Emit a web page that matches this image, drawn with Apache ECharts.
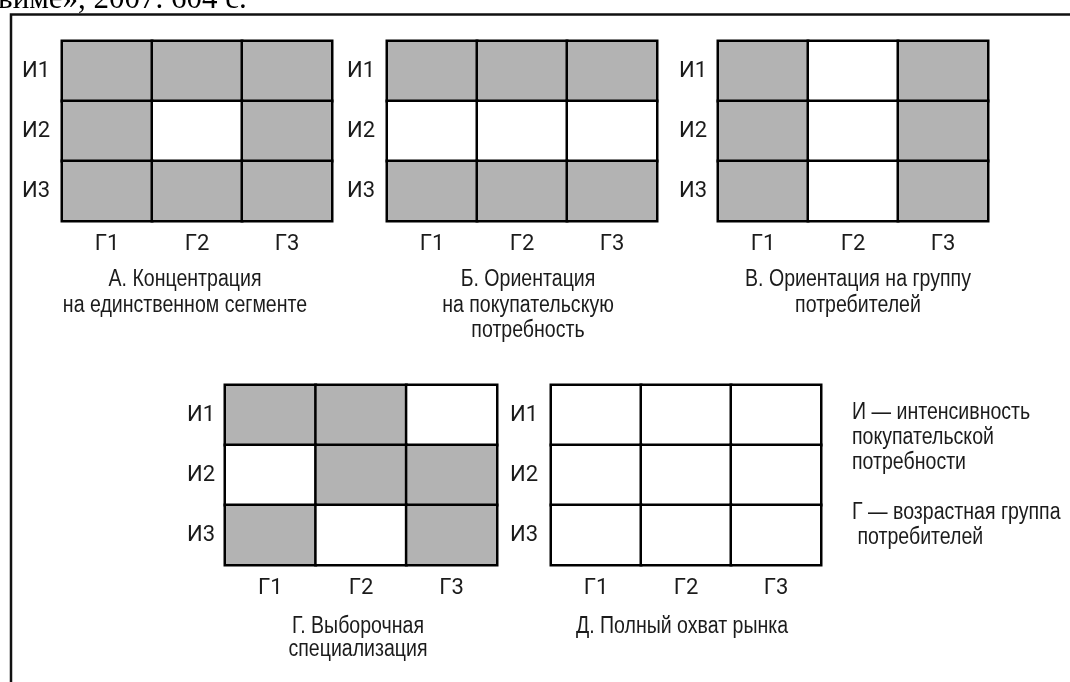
<!DOCTYPE html>
<html>
<head>
<meta charset="utf-8">
<script src="https://cdn.jsdelivr.net/npm/echarts@6/dist/echarts.min.js"></script>
<style>
  html, body { margin: 0; padding: 0; background: #fff; }
  #chart { width: 1070px; height: 682px; }
</style>
</head>
<body>
<div id="chart"></div>
<script>
// categories
const groups = ["Г1", "Г2", "Г3"];
const intensities = ["И1", "И2", "И3"];

// 1 = covered segment (shaded), 0 = not covered; rows И1..И3, cols Г1..Г3
const matrixA = [[1, 1, 1], [1, 0, 1], [1, 1, 1]];
const matrixB = [[1, 1, 1], [0, 0, 0], [1, 1, 1]];
const matrixC = [[1, 0, 1], [1, 0, 1], [1, 0, 1]];
const matrixD = [[1, 1, 0], [0, 1, 1], [1, 0, 1]];
const matrixE = [[0, 0, 0], [0, 0, 0], [0, 0, 0]];

const captions = [
  "А. Концентрация\nна единственном сегменте",
  "Б. Ориентация\nна покупательскую\nпотребность",
  "В. Ориентация на группу\nпотребителей",
  "Г. Выборочная\nспециализация",
  "Д. Полный охват рынка",
];

const legendLines = "И — интенсивность\nпокупательской\nпотребности\n\nГ — возрастная группа\n потребителей";

const labelFont = "Roboto, 'Liberation Sans', sans-serif";
const textFont = "'Liberation Sans', Arial, sans-serif";
const narrow = 0.85; // squeeze Arial-like text toward the condensed original
const ink = "#1b1b1b";

// panel layout: grid box, label margin, caption anchor
const panels = [
  { m: matrixA, left: 62, top: 41, width: 270, labelGap: 12, cx: 185, cy: 267, lh: 25.5 },
  { m: matrixB, left: 387, top: 41, width: 270, labelGap: 12, cx: 528, cy: 267, lh: 25.5 },
  { m: matrixC, left: 718, top: 41, width: 270, labelGap: 11, cx: 858, cy: 267, lh: 25.5 },
  { m: matrixD, left: 225, top: 385, width: 272, labelGap: 10, cx: 358, cy: 615.5, lh: 23 },
  { m: matrixE, left: 551, top: 385, width: 270, labelGap: 13, cx: 682, cy: 615.5, lh: 23 },
];

const toData = (m) => {
  const out = [];
  m.forEach((row, r) => row.forEach((v, c) => out.push([c, r, v])));
  return out;
};

const squeezedText = (text, x, y, lh, align) => ({
  type: "text",
  x: x,
  y: y,
  scaleX: narrow,
  silent: true,
  style: {
    text: text,
    x: 0,
    y: 0,
    align: align,
    verticalAlign: "top",
    font: "23px " + textFont,
    lineHeight: lh,
    fill: ink,
  },
});

const chart = echarts.init(document.getElementById("chart"), null, { renderer: "canvas" });

const option = {
  backgroundColor: "#ffffff",
  animation: false,
  grid: panels.map((p) => ({ left: p.left, top: p.top, width: p.width, height: 180 })),
  xAxis: panels.map((p, i) => ({
    type: "category",
    gridIndex: i,
    data: groups,
    axisLine: { show: false },
    axisTick: { show: false },
    splitLine: { show: false },
    axisLabel: { color: ink, fontFamily: labelFont, fontSize: 22, margin: 12 },
  })),
  yAxis: panels.map((p, i) => ({
    type: "category",
    gridIndex: i,
    data: intensities,
    inverse: true,
    axisLine: { show: false },
    axisTick: { show: false },
    splitLine: { show: false },
    axisLabel: { color: ink, fontFamily: labelFont, fontSize: 22, margin: p.labelGap },
  })),
  visualMap: {
    type: "piecewise",
    show: false,
    dimension: 2,
    pieces: [
      { value: 1, color: "#b3b3b3" },
      { value: 0, color: "#ffffff" },
    ],
  },
  series: panels.map((p, i) => ({
    type: "heatmap",
    xAxisIndex: i,
    yAxisIndex: i,
    data: toData(p.m),
    itemStyle: { borderColor: "#000", borderWidth: 2.5 },
    emphasis: { disabled: true },
  })),
  graphic: [
    {
      type: "rect",
      silent: true,
      shape: { x: 11, y: 14.5, width: 1200, height: 800 },
      style: { fill: "none", stroke: "#111", lineWidth: 2.5 },
    },
    {
      type: "text",
      x: -2,
      y: -16,
      silent: true,
      style: { text: "виме», 2007. 604 с.", font: "31px 'Liberation Serif', 'Times New Roman', serif", fill: "#000" },
    },
    ...panels.map((p, i) => squeezedText(captions[i], p.cx, p.cy, p.lh, "center")),
    squeezedText(legendLines, 852, 400, 25, "left"),
  ],
};

chart.setOption(option);
</script>
</body>
</html>
